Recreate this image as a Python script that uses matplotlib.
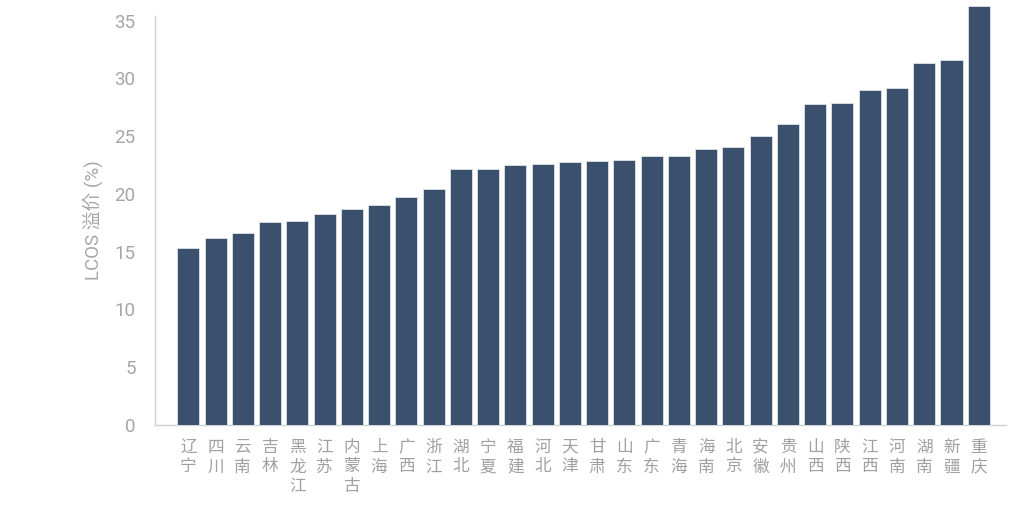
import matplotlib
matplotlib.use("Agg")
import matplotlib.pyplot as plt

provinces = ["辽宁", "四川", "云南", "吉林", "黑龙江", "江苏", "内蒙古", "上海", "广西", "浙江",
             "湖北", "宁夏", "福建", "河北", "天津", "甘肃", "山东", "广东", "青海", "海南",
             "北京", "安徽", "贵州", "山西", "陕西", "江西", "河南", "湖南", "新疆", "重庆"]
premium = [15.3, 16.2, 16.6, 17.6, 17.7, 18.3, 18.7, 19.05, 19.7, 20.4,
           22.15, 22.15, 22.55, 22.6, 22.8, 22.85, 22.9, 23.3, 23.3, 23.9,
           24.1, 25.0, 26.1, 27.8, 27.9, 29.0, 29.2, 31.3, 31.6, 36.3]
yticks = [0, 5, 10, 15, 20, 25, 30, 35]

plt.rcParams['font.family'] = ['Roboto', 'Noto Sans CJK SC', 'DejaVu Sans']

fig = plt.figure(figsize=(10.24, 5.2), dpi=100)
ax = fig.add_axes([0.1514, 0.1827, 0.9824 - 0.1514, 0.969 - 0.1827])

x = list(range(len(provinces)))
bars = ax.bar(x, premium, width=0.81, color='#3b506d', edgecolor='#dfe3e8', linewidth=0.6, clip_on=False, zorder=3)

ax.set_xlim(-1.22, 30.0)
ax.set_ylim(0, 35.4)
ax.set_yticks(yticks)
ax.set_yticklabels([str(v) for v in yticks], fontsize=13.5, color='#a6a6a6')
ax.tick_params(axis='y', length=0, pad=14)
ax.tick_params(axis='x', length=0)
ax.set_xticks(x)
ax.set_xticklabels(["\n".join(p) for p in provinces], fontsize=12, color='#a0a0a0',
                   family=['Noto Sans CJK SC', 'DejaVu Sans'], linespacing=1.2, va='top')
ax.tick_params(axis='x', pad=10)

for s in ['top', 'right']:
    ax.spines[s].set_visible(False)
for s in ['left', 'bottom']:
    ax.spines[s].set_color('#d0d0d0')
    ax.spines[s].set_linewidth(1.0)

ax.set_ylabel("LCOS 溢价 (%)", fontsize=13.5, color='#a6a6a6', labelpad=8,
              family=['Roboto', 'Noto Sans CJK SC', 'DejaVu Sans'])

fig.savefig("out.png", dpi=100, facecolor='white')
